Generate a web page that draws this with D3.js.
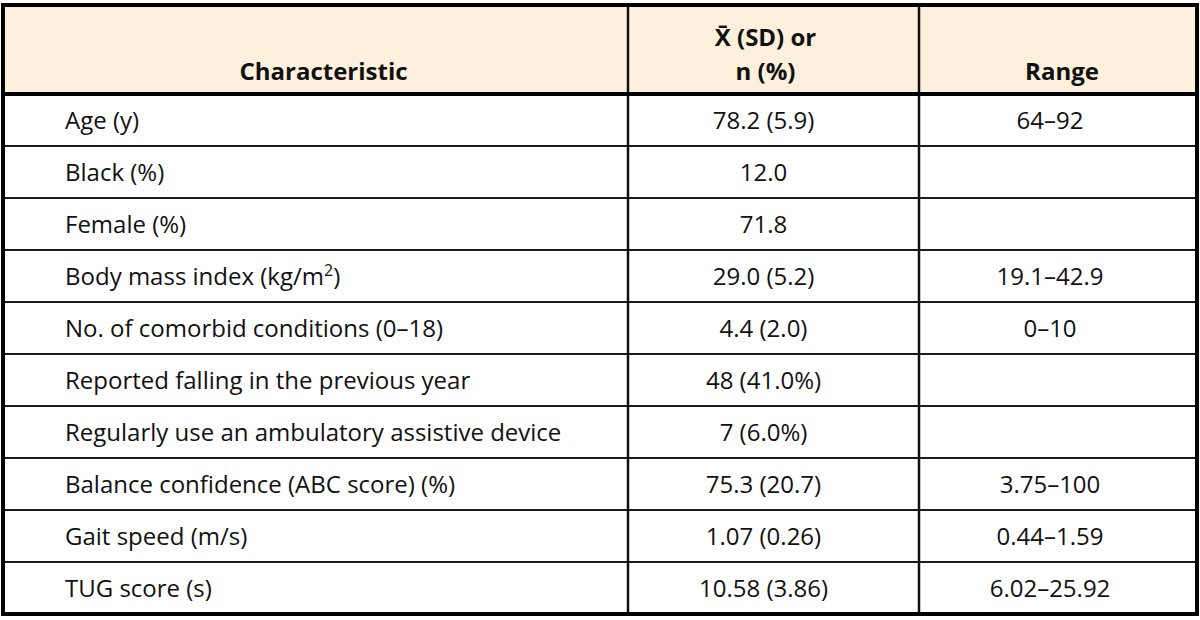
<!DOCTYPE html>
<html>
<head>
    <meta charset="utf-8">
    <style>
        body { margin: 0; background: #ffffff; }
        .cell-text {
            font-family: "Open Sans", sans-serif;
            font-size: 24px;
            fill: #111;
        }
        .head-text {
            font-family: "Open Sans", sans-serif;
            font-size: 24px;
            font-weight: bold;
            fill: #111;
        }
    </style>
</head>
<body>
    <script src="https://cdnjs.cloudflare.com/ajax/libs/d3/7.8.5/d3.min.js"></script>
    <script>
        // table content
        var headers = ["Characteristic", "X\u0304 (SD) or|n (%)", "Range"];
        var characteristics = [
            "Age (y)",
            "Black (%)",
            "Female (%)",
            "Body mass index (kg/m2)",
            "No. of comorbid conditions (0\u201318)",
            "Reported falling in the previous year",
            "Regularly use an ambulatory assistive device",
            "Balance confidence (ABC score) (%)",
            "Gait speed (m/s)",
            "TUG score (s)"
        ];
        var meanSD = ["78.2 (5.9)", "12.0", "71.8", "29.0 (5.2)", "4.4 (2.0)",
            "48 (41.0%)", "7 (6.0%)", "75.3 (20.7)", "1.07 (0.26)", "10.58 (3.86)"];
        var ranges = ["64\u201392", "", "", "19.1\u201342.9", "0\u201310",
            "", "", "3.75\u2013100", "0.44\u20131.59", "6.02\u201325.92"];

        var width = 1200, height = 620;
        // frame edges (note: "top" is reserved on window, so use tableTop)
        var tableLeft = 3, tableRight = 1197, tableTop = 5, tableBottom = 614, headBottom = 94;
        var colEdges = [tableLeft, 628, 919, tableRight];

        var svg = d3.select("body").append("svg")
            .attr("width", width)
            .attr("height", height);

        // rows
        var y = d3.scaleBand()
            .domain(d3.range(characteristics.length))
            .range([headBottom, tableBottom]);

        // header background
        svg.append("rect")
            .attr("x", tableLeft).attr("y", tableTop)
            .attr("width", tableRight - tableLeft).attr("height", headBottom - tableTop)
            .attr("fill", "#fdf0dc");

        // header text
        var colMid = function (i) { return (colEdges[i] + colEdges[i + 1]) / 2; };
        headers.forEach(function (h, i) {
            var lines = h.split("|");
            var hx = colMid(i) + (i == 0 ? 8 : (i == 2 ? 4 : -8));
            var t = svg.append("text")
                .attr("class", "head-text")
                .attr("text-anchor", "middle")
                .attr("x", hx);
            lines.forEach(function (l, j) {
                t.append("tspan")
                    .attr("x", hx)
                    .attr("y", 80 - (lines.length - 1 - j) * 34)
                    .text(l);
            });
        });

        // body rows
        var rows = svg.selectAll(".row")
            .data(characteristics)
            .enter().append("g")
            .attr("class", "row")
            .attr("transform", function (d, i) { return "translate(0," + (y(i) + y.bandwidth() / 2) + ")"; });

        rows.append("text")
            .attr("class", "cell-text")
            .attr("x", 65)
            .attr("dy", "0.36em")
            .each(function (d) {
                var sel = d3.select(this);
                if (d.indexOf("m2)") > -1) {
                    sel.append("tspan").text(d.replace("m2)", "m"));
                    sel.append("tspan").attr("dy", "-9").style("font-size", "16px").text("2");
                    sel.append("tspan").attr("dy", "9").text(")");
                } else {
                    sel.text(d);
                }
            });

        rows.append("text")
            .attr("class", "cell-text")
            .attr("text-anchor", "middle")
            .attr("x", colMid(1) - 10)
            .attr("dy", "0.36em")
            .text(function (d, i) { return meanSD[i]; });

        rows.append("text")
            .attr("class", "cell-text")
            .attr("text-anchor", "middle")
            .attr("x", colMid(2) - 8)
            .attr("dy", "0.36em")
            .text(function (d, i) { return ranges[i]; });

        // row lines
        svg.selectAll(".hline")
            .data(d3.range(1, characteristics.length))
            .enter().append("line")
            .attr("x1", tableLeft).attr("x2", tableRight)
            .attr("y1", function (d) { return y(d); })
            .attr("y2", function (d) { return y(d); })
            .attr("stroke", "#1a1a1a")
            .attr("stroke-width", 2);

        // column lines
        svg.selectAll(".vline")
            .data(colEdges.slice(1, 3))
            .enter().append("line")
            .attr("x1", function (d) { return d; })
            .attr("x2", function (d) { return d; })
            .attr("y1", tableTop).attr("y2", tableBottom)
            .attr("stroke", "#111")
            .attr("stroke-width", 2.5);

        // header rule
        svg.append("line")
            .attr("x1", tableLeft).attr("x2", tableRight)
            .attr("y1", headBottom).attr("y2", headBottom)
            .attr("stroke", "#000")
            .attr("stroke-width", 4);

        // outer frame
        svg.append("rect")
            .attr("x", tableLeft).attr("y", tableTop)
            .attr("width", tableRight - tableLeft).attr("height", tableBottom - tableTop)
            .attr("fill", "none")
            .attr("stroke", "#000")
            .attr("stroke-width", 4);
    </script>
</body>
</html>
